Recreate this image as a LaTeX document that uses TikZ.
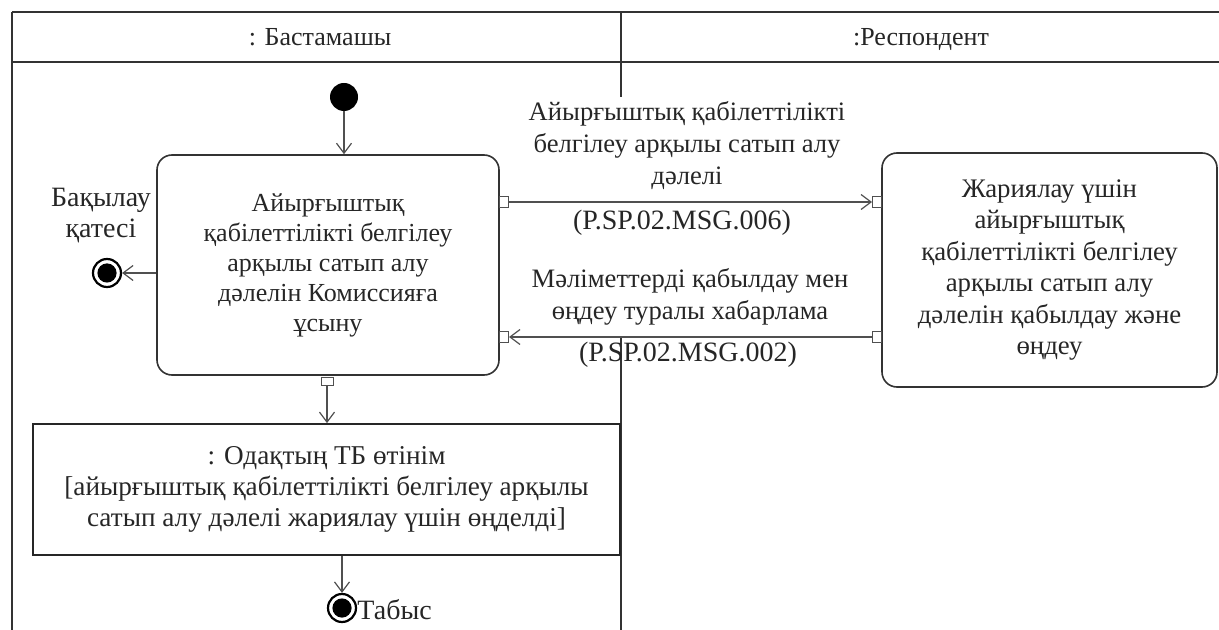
\documentclass[tikz,border=0pt]{standalone}
\usepackage{fontspec}
\setmainfont{Liberation Serif}
\usetikzlibrary{arrows.meta}
\definecolor{ln}{HTML}{333333}
\definecolor{ar}{HTML}{505050}
\tikzset{
  frameline/.style={draw=ln, line width=1.1pt},
  actbox/.style={draw=ln, line width=0.8pt, rounded corners=7.5pt, align=center, inner sep=0pt,
     font=\fontsize{13}{15}\selectfont, text=black!85},
  objbox/.style={draw=black!85, line width=0.9pt, align=center, inner sep=0pt,
     font=\fontsize{13.6}{15.7}\selectfont, text=black!85},
  pinbox/.style={draw=ar, fill=white, line width=0.5pt, inner sep=0pt},
  flow/.style={draw=ar, line width=0.6pt, -{Straight Barb[length=5pt,width=7.5pt]}},
  lbl/.style={align=center, inner sep=0pt, font=\fontsize{13.3}{16}\selectfont, text=black!85},
  hdr/.style={inner sep=0pt, anchor=base, font=\fontsize{13}{15}\selectfont, text=black!85},
  initnode/.style={circle, fill=black, minimum size=14pt, inner sep=0pt},
  finring/.style={circle, draw=black, line width=1.1pt, fill=white, minimum size=14pt, inner sep=0pt},
}
\begin{document}
\begin{tikzpicture}[x=0.5pt, y=-0.5pt]
\useasboundingbox (0,0) rectangle (1219,630);
% swimlane frame
\draw[frameline] (12,12) -- (1219,12);
\draw[frameline] (12,62) -- (1219,62);
\draw[frameline] (12,12) -- (12,630);
\draw[frameline] (621,12) -- (621,97);
\draw[frameline] (621,337) -- (621,630);
\node[hdr] (h1) at (320,46) {: Бастамашы};
\node[hdr] (h2) at (921,46) {:Респондент};
% nodes
\node[initnode] (init) at (344,97) {};
\node[actbox, minimum width=171pt, minimum height=110pt] (box1) at (328,265)
  {Айырғыштық\\қабілеттілікті белгілеу\\арқылы сатып алу\\дәлелін Комиссияға\\ұсыну};
\node[actbox, font=\fontsize{13.4}{15.7}\selectfont, minimum width=167.5pt, minimum height=117pt] (box2) at (1049.5,270)
  {Жариялау үшін\\айырғыштық\\қабілеттілікті белгілеу\\арқылы сатып алу\\дәлелін қабылдау және\\өңдеу};
\node[objbox, minimum width=293.5pt, minimum height=65.5pt] (obj) at (326.5,489.5)
  {: Одақтың ТБ өтінім\\{[}айырғыштық қабілеттілікті белгілеу арқылы\\сатып алу дәлелі жариялау үшін өңделді{]}};
% pins
\node[pinbox, minimum width=4.5pt, minimum height=5.5pt] (p1) at (504,202) {};
\node[pinbox, minimum width=4.5pt, minimum height=5.5pt] (p2) at (504,337) {};
\node[pinbox, minimum width=4.5pt, minimum height=5.5pt] (p3) at (877,202) {};
\node[pinbox, minimum width=4.5pt, minimum height=5.5pt] (p4) at (877,337) {};
\node[pinbox, minimum width=6pt, minimum height=4pt] (p5) at (327,381) {};
% final nodes
\node[finring] (fin1) at (107,273) {};
\fill (fin1.center) circle (4.8pt);
\node[finring] (fin2) at (342,608) {};
\fill (fin2.center) circle (4.8pt);
% labels
\node[lbl] (l1) at (687,146) {Айырғыштық қабілеттілікті\\белгілеу арқылы сатып алу\\дәлелі};
\node[lbl, font=\fontsize{14}{16}\selectfont] (l1b) at (682,223) {(P.SP.02.MSG.006)};
\node[lbl] (l2) at (690,297) {Мәліметтерді қабылдау мен\\өңдеу туралы хабарлама};
\node[lbl, font=\fontsize{14}{16}\selectfont] (l2b) at (688,355) {(P.SP.02.MSG.002)};
\node[lbl, font=\fontsize{14}{15.5}\selectfont] (lf1) at (101,216) {Бақылау\\қатесі};
\node[lbl, font=\fontsize{14}{15}\selectfont, anchor=west] (lf2) at (357,610) {Табыс};
% connectors
\draw[flow] (init.south) -- (init.south |- box1.north);
\draw[flow] (box1.west |- fin1) -- (fin1.east);
\draw[flow] (p1.east) -- (p3.west);
\draw[flow] (p4.west) -- (p2.east);
\draw[flow] (p5.south) -- (p5.south |- obj.north);
\draw[flow] (fin2 |- obj.south) -- (fin2.north);
\end{tikzpicture}
\end{document}
